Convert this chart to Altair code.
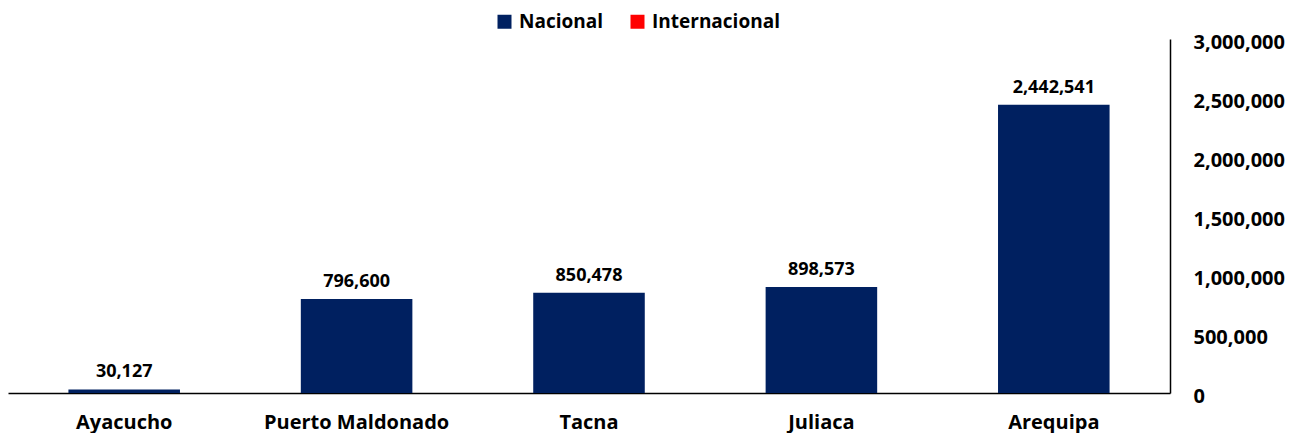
import altair as alt
import pandas as pd

categories = ["Ayacucho", "Puerto Maldonado", "Tacna", "Juliaca", "Arequipa"]
nacional = [30127, 796600, 850478, 898573, 2442541]
internacional = [0, 0, 0, 0, 0]
series = ["Nacional", "Internacional"]
colors = ["#002060", "#FF0000"]
y_ticks = [0, 500000, 1000000, 1500000, 2000000, 2500000, 3000000]

rows = []
for c, n, i in zip(categories, nacional, internacional):
    rows.append({"cat": c, "serie": "Nacional", "val": n, "order": 0})
    rows.append({"cat": c, "serie": "Internacional", "val": i, "order": 1})
df = pd.DataFrame(rows)
lab = pd.DataFrame({"cat": categories, "val": nacional})

FONT = "Open Sans"

x = alt.X("cat:N", sort=categories, title=None,
          scale=alt.Scale(paddingInner=0.52, paddingOuter=0.26),
          axis=alt.Axis(labelAngle=0, labelFont=FONT, labelFontSize=20, labelFontWeight="bold",
                        labelColor="#000000", labelPadding=19, ticks=False, labelLimit=400,
                        domainColor="#000000", domainWidth=1.5))
y = alt.Y("val:Q", stack=True, title=None,
          scale=alt.Scale(domain=[0, 3000000], nice=False),
          axis=alt.Axis(orient="right", values=y_ticks, format=",d", grid=False, ticks=False,
                        labelFont=FONT, labelFontSize=20, labelFontWeight="bold",
                        labelColor="#000000", labelPadding=23, labelOffset=3, labelLimit=300,
                        domainColor="#000000", domainWidth=1.5))

bars = alt.Chart(df).mark_bar().encode(
    x=x, y=y,
    color=alt.Color("serie:N", sort=series,
                    scale=alt.Scale(domain=series, range=colors),
                    legend=alt.Legend(title=None, orient="none", direction="horizontal",
                                      legendX=487, legendY=-27, symbolType="square",
                                      symbolSize=196, symbolStrokeWidth=0, labelLimit=300,
                                      labelFont=FONT, labelFontSize=19, labelFontWeight="bold",
                                      labelColor="#000000", columnPadding=24, labelOffset=5)),
    order=alt.Order("order:Q"),
)

texts = alt.Chart(lab).mark_text(dy=-8, baseline="bottom", font=FONT, fontSize=18,
                                 fontWeight="bold", color="#000000").encode(
    x=alt.X("cat:N", sort=categories),
    y=alt.Y("val:Q"),
    text=alt.Text("val:Q", format=",d"),
)

chart = alt.layer(bars, texts).properties(
    width=1162, height=354,
    autosize=alt.AutoSizeParams(type="none"),
    padding={"left": 0, "top": 31, "right": 130, "bottom": 40},
).configure(background="#ffffff").configure_view(stroke=None)

chart.save("out.html", embed_options={"renderer": "svg", "actions": False})
